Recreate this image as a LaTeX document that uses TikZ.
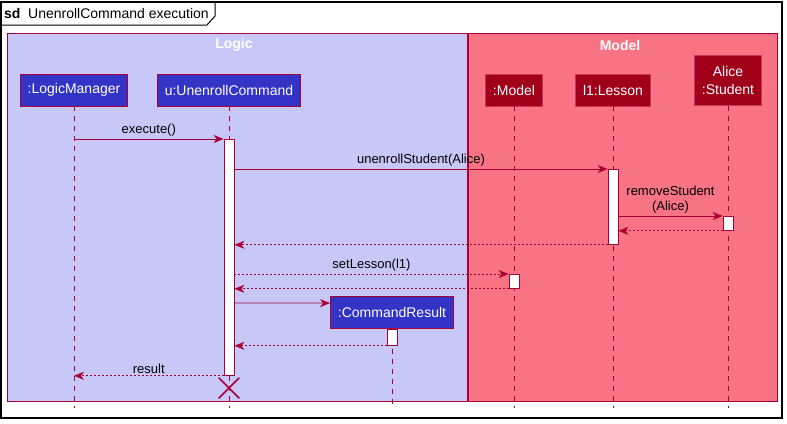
\documentclass[tikz,border=0pt]{standalone}
\usepackage{fontspec}
\setmainfont{Liberation Sans}
\usetikzlibrary{arrows.meta, positioning, shapes.misc}
\definecolor{umlred}{HTML}{A80036}
\definecolor{logicbg}{HTML}{C8C8F8}
\definecolor{modelbg}{HTML}{F87383}
\definecolor{logicpart}{HTML}{3333C5}
\definecolor{modelpart}{HTML}{A0001A}
\tikzset{
  group/.style    = {draw=umlred, line width=0.8pt},
  grouptitle/.style = {text=white, font=\fontsize{14}{16}\selectfont\bfseries, inner sep=0pt},
  part/.style     = {draw=umlred, line width=0.8pt, text=white, align=center,
                     font=\fontsize{14}{18}\selectfont, minimum height=32pt,
                     inner xsep=7.5pt, inner ysep=3pt},
  logicobj/.style = {part, fill=logicpart},
  modelobj/.style = {part, fill=modelpart, draw=umlred!55!modelbg},
  lifeline/.style = {umlred, line width=0.8pt, dash pattern=on 5pt off 5pt},
  act/.style      = {draw=umlred, fill=white, line width=0.8pt, minimum width=10pt,
                     inner sep=0pt, anchor=north},
  msg/.style      = {-{Stealth[length=10pt, width=8pt, inset=3pt]}, umlred, line width=0.8pt},
  ret/.style      = {msg, dash pattern=on 2pt off 2pt},
  lbl/.style      = {font=\fontsize{13}{15}\selectfont, text=black, inner sep=2pt, align=center}
}
\begin{document}
\begin{tikzpicture}[x=1pt, y=-1pt]
\useasboundingbox (0,0) rectangle (787,423);
% frame and tab
\draw[line width=1.5pt] (1,2) rectangle (782,418);
\draw[line width=1pt] (1,25) -- (207,25) -- (215,16) -- (215,2);
\node[anchor=base west, font=\fontsize{14}{16}\selectfont\bfseries, inner sep=0pt] at (4,19) (sd) {sd};
\node[anchor=base west, font=\fontsize{14}{16}\selectfont, inner sep=0pt] at (28,19) (title) {UnenrollCommand execution};

% boxes
\draw[group, fill=logicbg] (7,33) rectangle (467,401);
\draw[group, fill=modelbg] (468,33) rectangle (777,401);
\node[grouptitle] at (234,45) (logic) {Logic};
\node[grouptitle] at (620,45) (model) {Model};

% participants
\node[logicobj]                at ( 74  , 90 ) (lm)  {:LogicManager};
\node[logicobj]                at (229  , 90 ) (uc)  {u:UnenrollCommand};
\node[modelobj]                at (514  , 90 ) (mdl) {:Model};
\node[modelobj]                at (613  , 90 ) (les) {l1:Lesson};
\node[modelobj, anchor=south, minimum height=50pt] at (728,106) (stu) {Alice\\:Student};
\node[logicobj]                at (392  ,312.5) (cr) {:CommandResult};

% lifelines
\coordinate (lmEnd)  at ( 74,408);
\coordinate (ucEnd)  at (229,408);
\coordinate (mdlEnd) at (514,408);
\coordinate (lesEnd) at (613,408);
\coordinate (stuEnd) at (728,408);
\coordinate (crEnd)  at (392,408);
\draw[lifeline] (lm.south)  -- (lmEnd);
\draw[lifeline] (uc.south)  -- (ucEnd);
\draw[lifeline] (mdl.south) -- (mdlEnd);
\draw[lifeline] (les.south) -- (lesEnd);
\draw[lifeline] (stu.south) -- (stuEnd);
\draw[lifeline] (cr.south)  -- (crEnd);

% activations
\node[act, minimum height=236pt] at (229,139) (actU) {};
\node[act, minimum height=75pt]  at (613,169) (actL) {};
\node[act, minimum height=14pt]  at (728,216) (actS) {};
\node[act, minimum height=14pt]  at (514,274) (actM) {};
\node[act, minimum height=16pt]  at (392,329) (actC) {};

% messages
\draw[msg] (lm |- actU.north) -- node[lbl, above] {execute()} (actU.north west);
\draw[msg] (actU.east |- actL.north) -- node[lbl, above] {unenrollStudent(Alice)} (actL.north west);
\draw[msg] (actL.east |- actS.north) -- node[lbl, above] {removeStudent\\(Alice)} (actS.north west);
\draw[ret] (actS.south west) -- (actL.east |- actS.south);
\draw[ret] (actL.south west) -- (actU.east |- actL.south);
\draw[ret] (actU.east |- actM.north) -- node[lbl, above] {setLesson(l1)} (actM.north west);
\draw[ret] (actM.south west) -- (actU.east |- actM.south);
\draw[msg] (actU.east |- 0,303) -- ([yshift=-7pt]cr.north west);
\draw[ret] (actC.south west) -- (actU.east |- actC.south);
\draw[ret] (actU.south west) -- node[lbl, above] {result} (lm |- actU.south);

% destroy
\node[cross out, draw=umlred, line width=1.5pt, minimum size=19pt, inner sep=0pt] at (229,388) (kill) {};
\end{tikzpicture}
\end{document}
